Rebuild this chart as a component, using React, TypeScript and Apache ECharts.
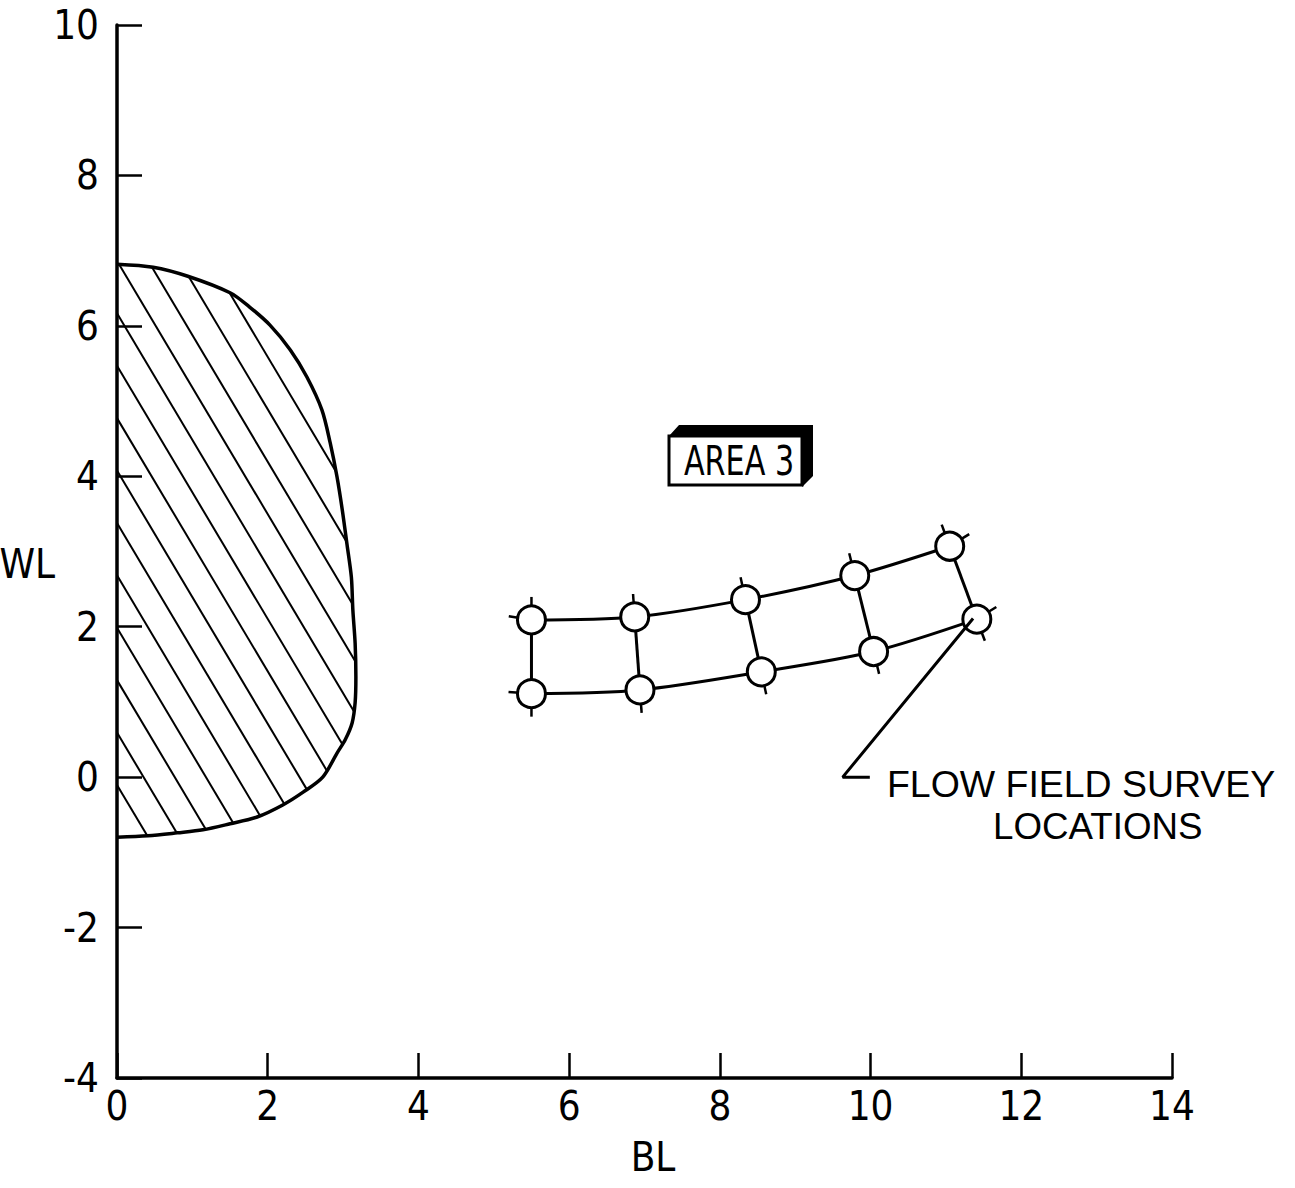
import React, { useEffect, useRef } from "react";
import * as echarts from "echarts";

// ---- data (BL, WL) ----
const xTickValues = [0, 2, 4, 6, 8, 10, 12, 14];
const yTickValues = [-4, -2, 0, 2, 4, 6, 8, 10];

// fuselage cross-section outline (top -> right side -> bottom)
const bodyBL = [0.0, 0.48, 0.94, 1.5, 1.76, 2.03, 2.3, 2.52, 2.72, 2.83, 2.92, 2.99, 3.05, 3.11, 3.13, 3.16, 3.17, 3.16, 3.12, 3.03, 2.92, 2.73, 2.47, 2.2, 1.86, 1.5, 1.14, 0.8, 0.41, 0.0];
const bodyWL = [6.82, 6.78, 6.66, 6.44, 6.25, 6.01, 5.68, 5.32, 4.88, 4.44, 3.99, 3.55, 3.11, 2.66, 2.22, 1.78, 1.33, 0.99, 0.72, 0.5, 0.32, 0.0, -0.2, -0.37, -0.53, -0.62, -0.7, -0.74, -0.78, -0.8];

// flow field survey locations
const upperBL = [5.5, 6.87, 8.34, 9.79, 11.05];
const upperWL = [2.09, 2.13, 2.36, 2.68, 3.07];
const lowerBL = [5.5, 6.94, 8.55, 10.04, 11.41];
const lowerWL = [1.11, 1.16, 1.4, 1.67, 2.1];

// leader line for the note
const leaderBL = [11.36, 9.63, 9.99];
const leaderWL = [2.11, 0.0, 0.0];

// ---- styles ----
const FONT = "'Liberation Sans Narrow', 'DejaVu Sans Condensed', 'Liberation Sans', sans-serif";
const NOTE_FONT = "'Liberation Sans', Arial, sans-serif";
const HATCH_SLOPE = 1.68; // pixel dy/dx
const HATCH_GAP = 52.4; // vertical pixel spacing
const BLACK = "#000";

function norm(v: number[]) {
  const l = Math.hypot(v[0], v[1]) || 1;
  return [v[0] / l, v[1] / l];
}

export default function App() {
  const ref = useRef<HTMLDivElement>(null);
  useEffect(() => {
    const chart = echarts.init(ref.current!, null, { renderer: "svg" });

    const bodyRender = (params: any, api: any) => {
      if (params.dataIndex !== 0) return null;
      const pts = bodyBL.map((x, i) => api.coord([x, bodyWL[i]]));
      const n = pts.length;
      const dx = 1 / Math.sqrt(1 + HATCH_SLOPE * HATCH_SLOPE);
      const dy = HATCH_SLOPE * dx;
      const corner = pts[n - 1];
      const children: any[] = [];
      for (let k = 1; k < 40; k++) {
        const p0 = [corner[0], corner[1] - k * HATCH_GAP];
        const ts: number[] = [];
        for (let j = 0; j < n; j++) {
          const a = pts[j];
          const b = pts[(j + 1) % n];
          const ex = b[0] - a[0];
          const ey = b[1] - a[1];
          const den = dx * ey - dy * ex;
          if (Math.abs(den) < 1e-9) continue;
          const wx = a[0] - p0[0];
          const wy = a[1] - p0[1];
          const t = (wx * ey - wy * ex) / den;
          const s = (wx * dy - wy * dx) / den;
          if (s >= 0 && s < 1) ts.push(t);
        }
        ts.sort((a, b) => a - b);
        for (let m = 0; m + 1 < ts.length; m += 2) {
          children.push({
            type: "line",
            shape: {
              x1: p0[0] + ts[m] * dx,
              y1: p0[1] + ts[m] * dy,
              x2: p0[0] + ts[m + 1] * dx,
              y2: p0[1] + ts[m + 1] * dy,
            },
            style: { stroke: BLACK, lineWidth: 2 },
          });
        }
      }
      children.push({
        type: "polyline",
        shape: { points: pts, smooth: 0.3 },
        style: { fill: "none", stroke: BLACK, lineWidth: 3.5 },
      });
      return { type: "group", children };
    };

    const stationRender = (params: any, api: any) => {
      const i = params.dataIndex;
      const last = upperBL.length - 1;
      const U = api.coord([upperBL[i], upperWL[i]]);
      const L = api.coord([lowerBL[i], lowerWL[i]]);
      const up = norm([U[0] - L[0], U[1] - L[1]]);
      const children: any[] = [
        { type: "line", shape: { x1: U[0], y1: U[1], x2: L[0], y2: L[1] }, style: { stroke: BLACK, lineWidth: 3 } },
      ];
      const tick = (c: number[], d: number[]) => {
        children.push({
          type: "line",
          shape: { x1: c[0] + d[0] * 12, y1: c[1] + d[1] * 12, x2: c[0] + d[0] * 23, y2: c[1] + d[1] * 23 },
          style: { stroke: BLACK, lineWidth: 2.5 },
        });
      };
      tick(U, up);
      tick(L, [-up[0], -up[1]]);
      if (i === 0) {
        const U2 = api.coord([upperBL[1], upperWL[1]]);
        const L2 = api.coord([lowerBL[1], lowerWL[1]]);
        tick(U, norm([U[0] - U2[0], U[1] - U2[1] - 20]));
        tick(L, norm([L[0] - L2[0], L[1] - L2[1] - 12]));
      }
      if (i === last) {
        const Up = api.coord([upperBL[last - 1], upperWL[last - 1]]);
        const Lp = api.coord([lowerBL[last - 1], lowerWL[last - 1]]);
        const du = norm([U[0] - Up[0], U[1] - Up[1]]);
        const dl = norm([L[0] - Lp[0], L[1] - Lp[1]]);
        tick(U, norm([du[0], du[1] - 0.3]));
        tick(L, norm([dl[0], dl[1] - 0.3]));
      }
      return { type: "group", children };
    };

    const rowSeries = (bl: number[], wl: number[]) => ({
      type: "line",
      data: bl.map((x, i) => [x, wl[i]]),
      smooth: 0.3,
      symbol: "circle",
      symbolSize: 28,
      showSymbol: true,
      z: 3,
      silent: true,
      itemStyle: { color: "#fff", borderColor: BLACK, borderWidth: 3, opacity: 1 },
      lineStyle: { color: BLACK, width: 3 },
    });

    chart.setOption({
      animation: false,
      backgroundColor: "#fff",
      grid: { left: 117, right: 123, top: 25, bottom: 110, containLabel: false, outerBoundsMode: "none" },
      xAxis: {
        type: "value",
        min: 0,
        max: 14,
        interval: 2,
        name: "BL",
        nameLocation: "middle",
        nameGap: 59,
        nameMoveOverlap: false,
        nameTextStyle: { fontSize: 40, color: BLACK, fontFamily: FONT, padding: [0, 0, 0, 17] },
        axisLine: { show: true, onZero: false, lineStyle: { color: BLACK, width: 3.5 } },
        axisTick: { show: true, inside: true, length: 25, lineStyle: { color: BLACK, width: 2.5 } },
        axisLabel: {
          fontSize: 40,
          color: BLACK,
          fontFamily: FONT,
          margin: 8,
          formatter: (v: number) => (xTickValues.includes(v) ? String(v) : ""),
        },
        splitLine: { show: false },
      },
      yAxis: {
        type: "value",
        min: -4,
        max: 10,
        interval: 2,
        name: "WL",
        nameLocation: "middle",
        nameRotate: 0,
        nameGap: 62,
        nameMoveOverlap: false,
        nameTextStyle: { fontSize: 40, color: BLACK, fontFamily: FONT, verticalAlign: "top", lineHeight: 24 },
        axisLine: { show: true, onZero: false, lineStyle: { color: BLACK, width: 3.5 } },
        axisTick: { show: true, inside: true, length: 25, lineStyle: { color: BLACK, width: 2.5 } },
        axisLabel: {
          fontSize: 40,
          color: BLACK,
          fontFamily: FONT,
          margin: 18,
          formatter: (v: number) => (yTickValues.includes(v) ? String(v) : ""),
        },
        splitLine: { show: false },
      },
      series: [
        {
          type: "custom",
          coordinateSystem: "cartesian2d",
          data: bodyBL.map((x, i) => [x, bodyWL[i]]),
          renderItem: bodyRender,
          z: 2,
          silent: true,
        },
        {
          type: "custom",
          coordinateSystem: "cartesian2d",
          data: upperBL.map((x, i) => [x, upperWL[i]]),
          renderItem: stationRender,
          z: 1,
          silent: true,
        },
        rowSeries(upperBL, upperWL),
        rowSeries(lowerBL, lowerWL),
        {
          type: "line",
          data: leaderBL.map((x, i) => [x, leaderWL[i]]),
          symbol: "none",
          z: 5,
          silent: true,
          lineStyle: { color: BLACK, width: 3 },
        },
      ],
      graphic: [
        {
          type: "polygon",
          shape: { points: [[669, 436], [679, 425], [813, 425], [813, 476], [802, 487], [802, 436]] },
          style: { fill: BLACK },
        },
        {
          type: "rect",
          shape: { x: 669, y: 436, width: 133, height: 49 },
          style: { fill: "#fff", stroke: BLACK, lineWidth: 3 },
        },
        {
          type: "text",
          x: 739,
          y: 461,
          scaleX: 0.84,
          style: { text: "AREA 3", fontSize: 40, fontFamily: FONT, fill: BLACK, textAlign: "center", textVerticalAlign: "middle" },
        },
        {
          type: "text",
          x: 887,
          y: 785,
          scaleX: 1.04,
          style: { text: "FLOW FIELD SURVEY", fontSize: 36, fontFamily: NOTE_FONT, fill: BLACK, textAlign: "left", textVerticalAlign: "middle" },
        },
        {
          type: "text",
          x: 993,
          y: 827,
          scaleX: 1.02,
          style: { text: "LOCATIONS", fontSize: 36, fontFamily: NOTE_FONT, fill: BLACK, textAlign: "left", textVerticalAlign: "middle" },
        },
      ],
    });
    return () => chart.dispose();
  }, []);
  return (
    <div
      ref={ref}
      style={{ position: "absolute", left: 0, top: 0, width: 1295, height: 1188, background: "#fff" }}
    />
  );
}
